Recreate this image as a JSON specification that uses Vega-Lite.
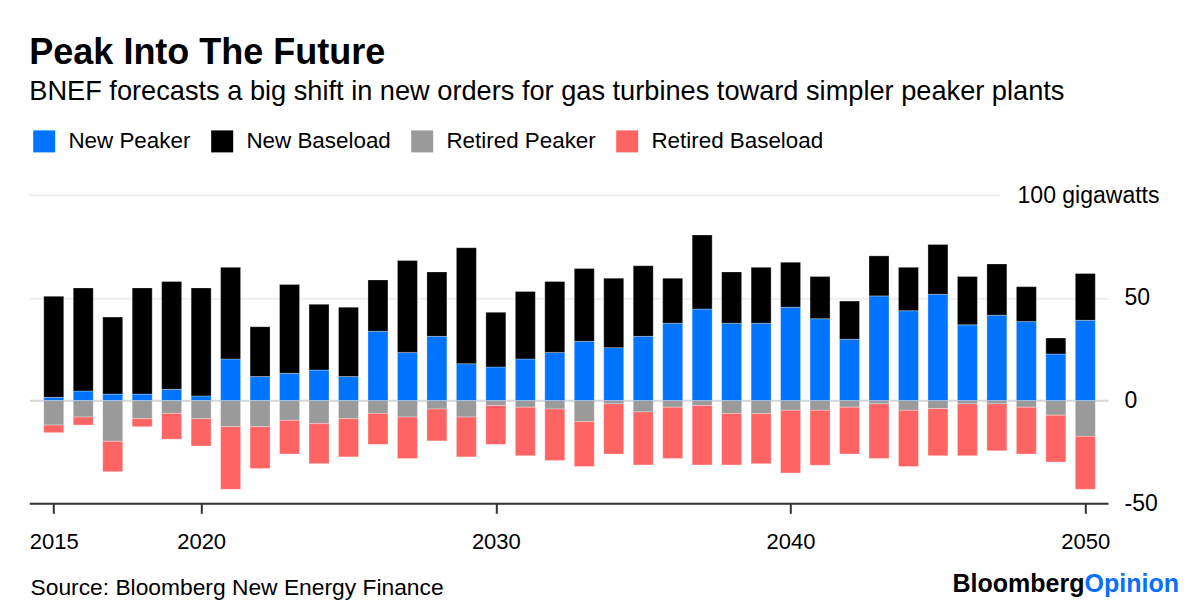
{
  "$schema": "https://vega.github.io/schema/vega-lite/v6.json",
  "width": 1078.7,
  "height": 308,
  "autosize": {"type": "none"},
  "padding": {"left": 29.3, "top": 195.3, "right": 92, "bottom": 110.7},
  "background": "white",
  "config": {"font": "Liberation Sans", "view": {"stroke": null}},
  "title": {
    "text": "Peak Into The Future",
    "subtitle": "BNEF forecasts a big shift in new orders for gas turbines toward simpler peaker plants",
    "anchor": "start",
    "frame": "group",
    "font": "Liberation Sans",
    "fontSize": 36,
    "fontWeight": "bold",
    "color": "#000000",
    "subtitleFont": "Liberation Sans",
    "subtitleFontSize": 27.2,
    "subtitleColor": "#000000",
    "subtitlePadding": 7.5,
    "offset": 23.5
  },
  "data": {
    "values": [
      {"year": 2015, "series": "New Peaker", "value": 1.6}, {"year": 2015, "series": "New Baseload", "value": 49.2}, {"year": 2015, "series": "Retired Peaker", "value": -11.9}, {"year": 2015, "series": "Retired Baseload", "value": -3.7},
      {"year": 2016, "series": "New Peaker", "value": 4.7}, {"year": 2016, "series": "New Baseload", "value": 50.2}, {"year": 2016, "series": "Retired Peaker", "value": -8.0}, {"year": 2016, "series": "Retired Baseload", "value": -3.9},
      {"year": 2017, "series": "New Peaker", "value": 3.2}, {"year": 2017, "series": "New Baseload", "value": 37.5}, {"year": 2017, "series": "Retired Peaker", "value": -19.8}, {"year": 2017, "series": "Retired Baseload", "value": -14.8},
      {"year": 2018, "series": "New Peaker", "value": 3.2}, {"year": 2018, "series": "New Baseload", "value": 51.7}, {"year": 2018, "series": "Retired Peaker", "value": -8.8}, {"year": 2018, "series": "Retired Baseload", "value": -3.9},
      {"year": 2019, "series": "New Peaker", "value": 5.5}, {"year": 2019, "series": "New Baseload", "value": 52.5}, {"year": 2019, "series": "Retired Peaker", "value": -6.2}, {"year": 2019, "series": "Retired Baseload", "value": -12.6},
      {"year": 2020, "series": "New Peaker", "value": 2.3}, {"year": 2020, "series": "New Baseload", "value": 52.6}, {"year": 2020, "series": "Retired Peaker", "value": -8.8}, {"year": 2020, "series": "Retired Baseload", "value": -13.3},
      {"year": 2021, "series": "New Peaker", "value": 20.3}, {"year": 2021, "series": "New Baseload", "value": 44.6}, {"year": 2021, "series": "Retired Peaker", "value": -12.7}, {"year": 2021, "series": "Retired Baseload", "value": -30.5},
      {"year": 2022, "series": "New Peaker", "value": 11.7}, {"year": 2022, "series": "New Baseload", "value": 24.3}, {"year": 2022, "series": "Retired Peaker", "value": -12.7}, {"year": 2022, "series": "Retired Baseload", "value": -20.3},
      {"year": 2023, "series": "New Peaker", "value": 13.3}, {"year": 2023, "series": "New Baseload", "value": 43.2}, {"year": 2023, "series": "Retired Peaker", "value": -9.6}, {"year": 2023, "series": "Retired Baseload", "value": -16.4},
      {"year": 2024, "series": "New Peaker", "value": 14.9}, {"year": 2024, "series": "New Baseload", "value": 32.0}, {"year": 2024, "series": "Retired Peaker", "value": -11.2}, {"year": 2024, "series": "Retired Baseload", "value": -19.5},
      {"year": 2025, "series": "New Peaker", "value": 11.7}, {"year": 2025, "series": "New Baseload", "value": 33.8}, {"year": 2025, "series": "Retired Peaker", "value": -8.8}, {"year": 2025, "series": "Retired Baseload", "value": -18.6},
      {"year": 2026, "series": "New Peaker", "value": 33.8}, {"year": 2026, "series": "New Baseload", "value": 25.0}, {"year": 2026, "series": "Retired Peaker", "value": -6.2}, {"year": 2026, "series": "Retired Baseload", "value": -15.1},
      {"year": 2027, "series": "New Peaker", "value": 23.5}, {"year": 2027, "series": "New Baseload", "value": 44.7}, {"year": 2027, "series": "Retired Peaker", "value": -8.0}, {"year": 2027, "series": "Retired Baseload", "value": -20.2},
      {"year": 2028, "series": "New Peaker", "value": 31.3}, {"year": 2028, "series": "New Baseload", "value": 31.4}, {"year": 2028, "series": "Retired Peaker", "value": -4.1}, {"year": 2028, "series": "Retired Baseload", "value": -15.5},
      {"year": 2029, "series": "New Peaker", "value": 18.0}, {"year": 2029, "series": "New Baseload", "value": 56.5}, {"year": 2029, "series": "Retired Peaker", "value": -8.0}, {"year": 2029, "series": "Retired Baseload", "value": -19.4},
      {"year": 2030, "series": "New Peaker", "value": 16.4}, {"year": 2030, "series": "New Baseload", "value": 26.6}, {"year": 2030, "series": "Retired Peaker", "value": -2.4}, {"year": 2030, "series": "Retired Baseload", "value": -18.9},
      {"year": 2031, "series": "New Peaker", "value": 20.3}, {"year": 2031, "series": "New Baseload", "value": 32.9}, {"year": 2031, "series": "Retired Peaker", "value": -3.2}, {"year": 2031, "series": "Retired Baseload", "value": -23.6},
      {"year": 2032, "series": "New Peaker", "value": 23.5}, {"year": 2032, "series": "New Baseload", "value": 34.5}, {"year": 2032, "series": "Retired Peaker", "value": -4.1}, {"year": 2032, "series": "Retired Baseload", "value": -25.0},
      {"year": 2033, "series": "New Peaker", "value": 28.9}, {"year": 2033, "series": "New Baseload", "value": 35.4}, {"year": 2033, "series": "Retired Peaker", "value": -10.2}, {"year": 2033, "series": "Retired Baseload", "value": -21.9},
      {"year": 2034, "series": "New Peaker", "value": 25.8}, {"year": 2034, "series": "New Baseload", "value": 33.8}, {"year": 2034, "series": "Retired Peaker", "value": -1.6}, {"year": 2034, "series": "Retired Baseload", "value": -24.4},
      {"year": 2035, "series": "New Peaker", "value": 31.3}, {"year": 2035, "series": "New Baseload", "value": 34.4}, {"year": 2035, "series": "Retired Peaker", "value": -5.5}, {"year": 2035, "series": "Retired Baseload", "value": -25.8},
      {"year": 2036, "series": "New Peaker", "value": 37.7}, {"year": 2036, "series": "New Baseload", "value": 21.9}, {"year": 2036, "series": "Retired Peaker", "value": -3.2}, {"year": 2036, "series": "Retired Baseload", "value": -25.0},
      {"year": 2037, "series": "New Peaker", "value": 44.6}, {"year": 2037, "series": "New Baseload", "value": 36.1}, {"year": 2037, "series": "Retired Peaker", "value": -2.4}, {"year": 2037, "series": "Retired Baseload", "value": -28.9},
      {"year": 2038, "series": "New Peaker", "value": 37.7}, {"year": 2038, "series": "New Baseload", "value": 25.0}, {"year": 2038, "series": "Retired Peaker", "value": -6.3}, {"year": 2038, "series": "Retired Baseload", "value": -25.0},
      {"year": 2039, "series": "New Peaker", "value": 37.7}, {"year": 2039, "series": "New Baseload", "value": 27.2}, {"year": 2039, "series": "Retired Peaker", "value": -6.3}, {"year": 2039, "series": "Retired Baseload", "value": -24.4},
      {"year": 2040, "series": "New Peaker", "value": 45.5}, {"year": 2040, "series": "New Baseload", "value": 21.9}, {"year": 2040, "series": "Retired Peaker", "value": -4.7}, {"year": 2040, "series": "Retired Baseload", "value": -30.5},
      {"year": 2041, "series": "New Peaker", "value": 39.9}, {"year": 2041, "series": "New Baseload", "value": 20.5}, {"year": 2041, "series": "Retired Peaker", "value": -4.7}, {"year": 2041, "series": "Retired Baseload", "value": -26.8},
      {"year": 2042, "series": "New Peaker", "value": 29.9}, {"year": 2042, "series": "New Baseload", "value": 18.6}, {"year": 2042, "series": "Retired Peaker", "value": -3.2}, {"year": 2042, "series": "Retired Baseload", "value": -22.8},
      {"year": 2043, "series": "New Peaker", "value": 51.0}, {"year": 2043, "series": "New Baseload", "value": 19.5}, {"year": 2043, "series": "Retired Peaker", "value": -1.6}, {"year": 2043, "series": "Retired Baseload", "value": -26.6},
      {"year": 2044, "series": "New Peaker", "value": 43.8}, {"year": 2044, "series": "New Baseload", "value": 21.1}, {"year": 2044, "series": "Retired Peaker", "value": -4.7}, {"year": 2044, "series": "Retired Baseload", "value": -27.4},
      {"year": 2045, "series": "New Peaker", "value": 51.8}, {"year": 2045, "series": "New Baseload", "value": 24.2}, {"year": 2045, "series": "Retired Peaker", "value": -3.9}, {"year": 2045, "series": "Retired Baseload", "value": -22.9},
      {"year": 2046, "series": "New Peaker", "value": 36.9}, {"year": 2046, "series": "New Baseload", "value": 23.5}, {"year": 2046, "series": "Retired Peaker", "value": -1.6}, {"year": 2046, "series": "Retired Baseload", "value": -25.2},
      {"year": 2047, "series": "New Peaker", "value": 41.6}, {"year": 2047, "series": "New Baseload", "value": 25.0}, {"year": 2047, "series": "Retired Peaker", "value": -1.6}, {"year": 2047, "series": "Retired Baseload", "value": -22.8},
      {"year": 2048, "series": "New Peaker", "value": 38.5}, {"year": 2048, "series": "New Baseload", "value": 17.0}, {"year": 2048, "series": "Retired Peaker", "value": -3.2}, {"year": 2048, "series": "Retired Baseload", "value": -22.8},
      {"year": 2049, "series": "New Peaker", "value": 22.7}, {"year": 2049, "series": "New Baseload", "value": 7.8}, {"year": 2049, "series": "Retired Peaker", "value": -7.1}, {"year": 2049, "series": "Retired Baseload", "value": -22.8},
      {"year": 2050, "series": "New Peaker", "value": 39.1}, {"year": 2050, "series": "New Baseload", "value": 22.8}, {"year": 2050, "series": "Retired Peaker", "value": -17.4}, {"year": 2050, "series": "Retired Baseload", "value": -25.8}
    ]
  },
  "layer": [
    {
      "transform": [
        {"calculate": "indexof(['New Peaker', 'New Baseload', 'Retired Peaker', 'Retired Baseload'], datum.series)", "as": "stackOrder"}
      ],
      "mark": {"type": "bar", "size": 20, "stroke": "#ffffff", "strokeWidth": 0.5, "strokeOpacity": 0.6},
      "encoding": {
        "x": {
          "field": "year",
          "type": "quantitative",
          "scale": {"domain": [2014.17, 2050.77], "nice": false, "zero": false, "padding": 0},
          "axis": {
            "values": [2015, 2020, 2030, 2040, 2050],
            "format": "d",
            "labelFlush": false,
            "labelFont": "Liberation Sans",
            "labelFontSize": 22,
            "labelColor": "#000000",
            "labelPadding": 18,
            "tickSize": 10,
            "tickWidth": 2,
            "tickColor": "#333333",
            "domainColor": "#333333",
            "domainWidth": 2,
            "grid": false,
            "title": "Source: Bloomberg New Energy Finance",
            "titleFont": "Liberation Sans",
            "titleFontSize": 22.8,
            "titleFontWeight": "normal",
            "titleColor": "#000000",
            "titleAnchor": "start",
            "titleAlign": "left",
            "titleBaseline": "alphabetic",
            "titleX": 0.7,
            "titleY": 91.5
          }
        },
        "y": {
          "field": "value",
          "type": "quantitative",
          "stack": "zero",
          "scale": {"domain": [-50, 100], "nice": false},
          "axis": {
            "orient": "right",
            "values": [-50, 0, 50, 100],
            "labelExpr": "datum.value == 100 ? '100 gigawatts' : '' + datum.value",
            "labelFont": "Liberation Sans",
            "labelFontSize": 23,
            "labelColor": "#000000",
            "labelBaseline": "middle",
            "labelAlign": {"condition": {"test": "datum.value == 100", "value": "right"}, "value": "left"},
            "labelPadding": {"condition": {"test": "datum.value == 100", "value": 51}, "value": 16},
            "ticks": false,
            "domain": false,
            "grid": true,
            "gridColor": {"condition": [{"test": "datum.value == 100", "value": "transparent"}, {"test": "datum.value == 0", "value": "#d6d6d6"}], "value": "#eeeeee"},
            "gridWidth": 2,
            "title": "Bloomberg",
            "titleFont": "Liberation Sans",
            "titleFontSize": 25,
            "titleFontWeight": "bold",
            "titleColor": "#000000",
            "titleAngle": 0,
            "titleAlign": "left",
            "titleBaseline": "alphabetic",
            "titleX": -156,
            "titleY": 396.5
          }
        },
        "color": {
          "field": "series",
          "type": "nominal",
          "scale": {
            "domain": ["New Peaker", "New Baseload", "Retired Peaker", "Retired Baseload"],
            "range": ["#0073ff", "#000000", "#9a9a9a", "#ff6464"]
          },
          "legend": {
            "orient": "none",
            "legendX": 3.7,
            "legendY": -65.3,
            "direction": "horizontal",
            "title": null,
            "symbolType": "square",
            "symbolSize": 484,
            "symbolStrokeWidth": 0,
            "symbolOpacity": 1,
            "labelFont": "Liberation Sans",
            "labelFontSize": 22.4,
            "labelColor": "#000000",
            "labelLimit": 400,
            "labelOffset": 13,
            "columnPadding": 20,
            "padding": 0
          }
        },
        "order": {"field": "stackOrder", "type": "quantitative", "sort": "ascending"}
      }
    },
    {
      "data": {"values": [{"level": 100}]},
      "mark": {"type": "rule", "color": "#eeeeee", "strokeWidth": 2},
      "encoding": {
        "x": {"datum": 2014.17, "type": "quantitative"},
        "x2": {"datum": 2047.1},
        "y": {
          "field": "level",
          "type": "quantitative",
          "scale": {"domain": [-50, 100], "nice": false},
          "axis": {
            "orient": "left",
            "labels": false,
            "ticks": false,
            "domain": false,
            "grid": false,
            "title": "Opinion",
            "titleFont": "Liberation Sans",
            "titleFontSize": 25,
            "titleFontWeight": "bold",
            "titleColor": "#0a6eff",
            "titleAngle": 0,
            "titleAlign": "left",
            "titleBaseline": "alphabetic",
            "titleX": 1054.7,
            "titleY": 396.5
          }
        }
      }
    }
  ],
  "resolve": {"scale": {"y": "independent"}, "axis": {"y": "independent"}}
}
